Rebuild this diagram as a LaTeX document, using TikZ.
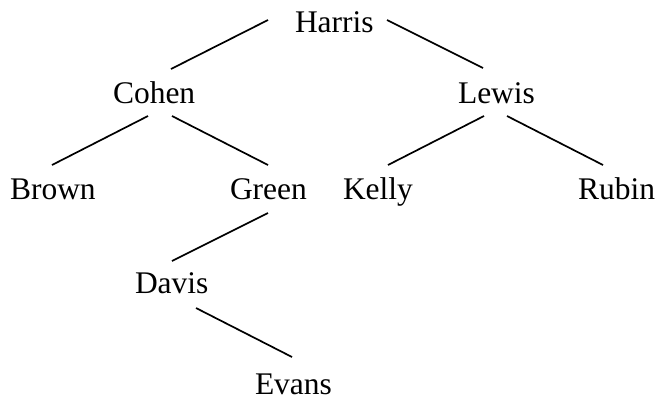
\documentclass[tikz,border=0pt]{standalone}
\usepackage{fontspec}
\setmainfont{Liberation Serif}
\begin{document}
\begin{tikzpicture}[x=1pt,y=-1pt,
  nm/.style={anchor=base west,inner sep=0pt,outer sep=0pt,font=\fontsize{31.5}{36}\selectfont},
  edge/.style={line width=1.7pt,black}]
\useasboundingbox (0,0) rectangle (656,400);
\node[nm] (harris) at (295,32) {Harris};
\node[nm] (cohen) at (113,103) {Cohen};
\node[nm] (lewis) at (458,103) {Lewis};
\node[nm] (brown) at (10,199) {Brown};
\node[nm] (green) at (230,199) {Green};
\node[nm] (kelly) at (343,199) {Kelly};
\node[nm] (rubin) at (578,199) {Rubin};
\node[nm] (davis) at (135,293) {Davis};
\node[nm] (evans) at (255,394) {Evans};
\draw[edge] ([shift={(-27,-12)}]harris.base west) -- ([shift={(58,-34)}]cohen.base west);
\draw[edge] ([shift={(92,-12)}]harris.base west) -- ([shift={(25,-35)}]lewis.base west);
\draw[edge] ([shift={(35,13)}]cohen.base west) -- ([shift={(42,-34)}]brown.base west);
\draw[edge] ([shift={(59,13)}]cohen.base west) -- ([shift={(38,-34)}]green.base west);
\draw[edge] ([shift={(26,13)}]lewis.base west) -- ([shift={(45,-34)}]kelly.base west);
\draw[edge] ([shift={(49,13)}]lewis.base west) -- ([shift={(25,-34)}]rubin.base west);
\draw[edge] ([shift={(38,14)}]green.base west) -- ([shift={(37,-32)}]davis.base west);
\draw[edge] ([shift={(61,15)}]davis.base west) -- ([shift={(37,-37)}]evans.base west);
\end{tikzpicture}
\end{document}
